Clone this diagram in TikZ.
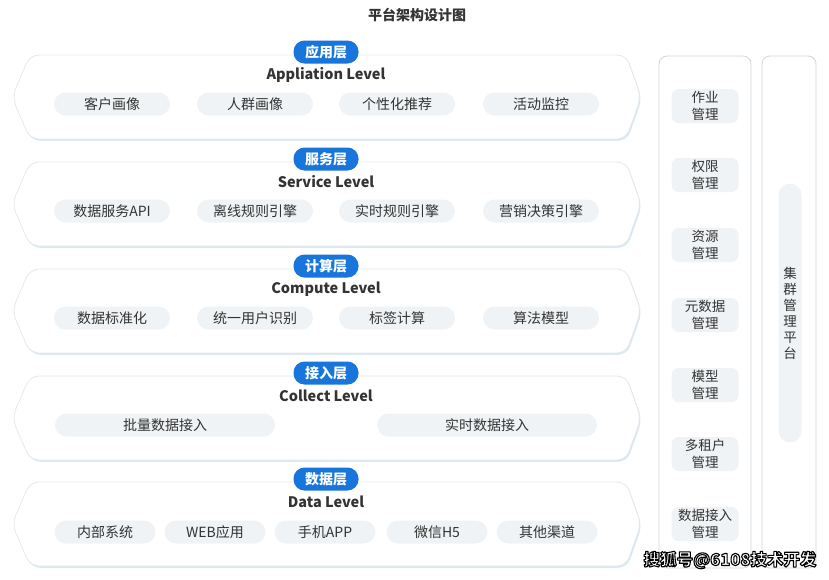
\documentclass[tikz,border=0pt]{standalone}
\usepackage{fontspec}
\setmainfont{Noto Sans CJK SC}
\usepackage{xcolor}
\usepackage{tikz}

\definecolor{tagblue}{RGB}{24,117,219}
\definecolor{txtdark}{RGB}{51,51,51}
\definecolor{itemgray}{RGB}{240,243,245}
\definecolor{edgegray}{RGB}{226,231,235}
\definecolor{shadeblue}{RGB}{220,233,240}
\definecolor{panelgray}{RGB}{208,212,216}

\begin{document}
\begin{tikzpicture}[x=1pt, y=-1pt,
    layer/.style={fill=white, draw=edgegray, line width=0.7pt, rounded corners=9pt,
        preaction={fill=shadeblue, transform canvas={xshift=1.2pt, yshift=-1.8pt}}},
    tag/.style={fill=tagblue, text=white, rounded corners=11pt, minimum width=65pt,
        minimum height=23pt, inner sep=0pt, font=\fontsize{14}{16}\selectfont\bfseries},
    level/.style={text=txtdark, inner sep=0pt, font=\fontsize{14.5}{16}\selectfont\bfseries},
    item/.style={fill=itemgray, text=txtdark, rounded corners=11.5pt, minimum height=23pt,
        inner sep=0pt, font=\fontsize{14}{16}\selectfont},
    panel/.style={draw=panelgray, line width=0.8pt, rounded corners=8pt},
    mgmt/.style={fill=itemgray, text=txtdark, rounded corners=7pt, minimum width=67pt,
        minimum height=34pt, inner sep=0pt, align=center, font=\fontsize{13.5}{16.5}\selectfont},
    wmark/.style={font=\fontsize{16.5}{18}\selectfont\bfseries, inner sep=0pt, text=white}
]
    \useasboundingbox (0,0) rectangle (829,579);

    % Title
    \node[text=txtdark, font=\fontsize{14}{16}\selectfont\bfseries] (title) at (417,15) {平台架构设计图};

    % Application layer
    \draw[layer] (30,55) -- (626,55) -- (641,97) -- (626,139) -- (30,139) -- (12,97) -- cycle;
    \node[tag] (P1) at (326,52) {应用层};
    \node[level] (L1) at (326,75) {Appliation Level};
    \node[item, minimum width=116pt] (A1) at (112,104) {客户画像};
    \node[item, minimum width=116pt] (A2) at (255,104) {人群画像};
    \node[item, minimum width=116pt] (A3) at (397,104) {个性化推荐};
    \node[item, minimum width=116pt] (A4) at (541,104) {活动监控};

    % Service layer
    \draw[layer] (30,162) -- (626,162) -- (641,204) -- (626,246) -- (30,246) -- (12,204) -- cycle;
    \node[tag] (P2) at (326,159) {服务层};
    \node[level] (L2) at (326,182) {Service Level};
    \node[item, minimum width=116pt] (S1) at (112,211) {数据服务API};
    \node[item, minimum width=116pt] (S2) at (255,211) {离线规则引擎};
    \node[item, minimum width=116pt] (S3) at (397,211) {实时规则引擎};
    \node[item, minimum width=116pt] (S4) at (541,211) {营销决策引擎};

    % Compute layer
    \draw[layer] (30,269) -- (626,269) -- (641,311) -- (626,353) -- (30,353) -- (12,311) -- cycle;
    \node[tag] (P3) at (326,266) {计算层};
    \node[level] (L3) at (326,289) {Compute Level};
    \node[item, minimum width=116pt] (C1) at (112,318) {数据标准化};
    \node[item, minimum width=116pt] (C2) at (255,318) {统一用户识别};
    \node[item, minimum width=116pt] (C3) at (397,318) {标签计算};
    \node[item, minimum width=116pt] (C4) at (541,318) {算法模型};

    % Collect layer
    \draw[layer] (30,376) -- (626,376) -- (641,418) -- (626,460) -- (30,460) -- (12,418) -- cycle;
    \node[tag] (P4) at (326,373) {接入层};
    \node[level] (L4) at (326,396) {Collect Level};
    \node[item, minimum width=220pt] (K1) at (165,425) {批量数据接入};
    \node[item, minimum width=220pt] (K2) at (487,425) {实时数据接入};

    % Data layer
    \draw[layer] (30,482) -- (626,482) -- (641,524) -- (626,566) -- (30,566) -- (12,524) -- cycle;
    \node[tag] (P5) at (326,479) {数据层};
    \node[level] (L5) at (326,502) {Data Level};
    \node[item, minimum width=101pt] (D1) at (105,532) {内部系统};
    \node[item, minimum width=101pt] (D2) at (215,532) {WEB应用};
    \node[item, minimum width=101pt] (D3) at (325,532) {手机APP};
    \node[item, minimum width=101pt] (D4) at (437,532) {微信H5};
    \node[item, minimum width=101pt] (D5) at (547,532) {其他渠道};

    % Management column
    \draw[panel] (659,56) rectangle (751,568);
    \node[mgmt] (M1) at (705,106) {作业\\管理};
    \node[mgmt] (M2) at (705,175) {权限\\管理};
    \node[mgmt] (M3) at (705,245) {资源\\管理};
    \node[mgmt] (M4) at (705,315) {元数据\\管理};
    \node[mgmt] (M5) at (705,385) {模型\\管理};
    \node[mgmt] (M6) at (705,454) {多租户\\管理};
    \node[mgmt] (M7) at (705,524) {数据接入\\管理};

    % Cluster column
    \draw[panel] (762,56) rectangle (816,568);
    \node[mgmt, minimum width=23pt, minimum height=259pt, rounded corners=11.5pt,
        font=\fontsize{13.5}{16}\selectfont] (cluster) at (790,313) {集\\群\\管\\理\\平\\台};

    % Watermark (outlined text)
    \node[wmark] (wm) at (730,560) {\special{pdf:literal direct 0 G 1.1 w 1 j 2 Tr}搜狐号@6108技术开发\special{pdf:literal direct 0 Tr}};
\end{tikzpicture}
\end{document}
